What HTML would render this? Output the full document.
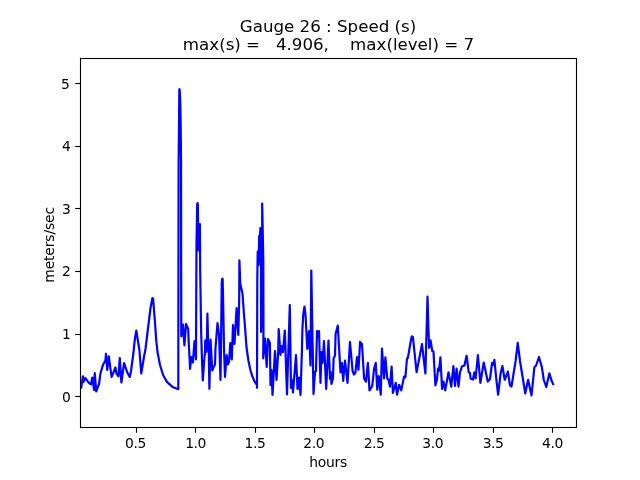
<!DOCTYPE html>
<html lang="en">
<head>
<meta charset="utf-8">
<title>Gauge 26 : Speed (s)</title>
<style>
html,body{margin:0;padding:0;background:#fff;}
body{width:640px;height:480px;overflow:hidden;}
svg{display:block;}
text{font-family:"DejaVu Sans","Liberation Sans",sans-serif;fill:#000;}
.tk{font-size:13.89px;}
.tt{font-size:16.67px;}
.xs{letter-spacing:-0.4px;}
</style>
</head>
<body>
<svg width="640" height="480" viewBox="0 0 640 480">
<rect x="0" y="0" width="640" height="480" fill="#ffffff"/>
<clipPath id="axclip"><rect x="80.00" y="57.60" width="496.00" height="369.60"/></clipPath>
<path d="M81.25 387.50 L82.90 376.30 L83.60 381.90 L85.40 378.00 L88.50 382.50 L91.00 384.40 L92.25 377.50 L94.10 390.00 L94.75 373.00 L96.25 391.30 L98.25 386.00 L99.10 383.75 L100.40 373.75 L102.90 365.00 L105.40 360.60 L106.00 353.75 L107.25 370.00 L108.75 356.25 L111.60 376.90 L113.50 372.50 L115.40 367.50 L116.60 373.75 L118.50 376.25 L119.75 358.00 L121.40 382.50 L124.10 363.00 L127.25 372.50 L129.75 376.90 L131.00 371.25 L133.50 352.50 L134.75 340.00 L136.30 330.50 L139.40 350.00 L141.25 373.50 L144.10 356.25 L145.50 349.00 L146.60 340.00 L148.10 327.50 L150.60 307.50 L152.40 298.00 L153.10 298.75 L155.00 322.50 L156.20 340.00 L157.50 352.00 L160.00 365.00 L163.10 375.00 L166.90 381.90 L172.50 386.90 L178.30 389.20 L178.60 165.00 L178.85 140.00 L179.15 110.00 L179.30 90.00 L179.50 89.20 L179.70 90.00 L180.20 100.00 L180.55 115.00 L180.85 140.00 L181.05 160.00 L181.10 250.00 L181.30 336.30 L182.00 326.50 L182.30 334.00 L183.00 324.50 L184.40 345.30 L186.00 324.00 L188.20 329.00 L188.60 340.00 L190.10 369.00 L191.30 357.00 L192.90 362.50 L194.50 341.00 L196.00 359.40 L196.50 245.00 L197.15 204.50 L197.50 203.10 L197.85 204.50 L198.40 250.50 L199.90 224.00 L200.20 270.00 L201.10 330.00 L202.00 360.00 L202.80 380.50 L204.10 362.00 L205.00 352.00 L205.30 340.40 L206.20 352.00 L206.90 340.00 L207.40 313.50 L208.10 341.00 L208.80 354.00 L209.40 388.80 L210.00 362.00 L210.30 352.00 L210.50 339.50 L212.30 370.50 L213.60 367.00 L215.00 364.50 L215.50 348.00 L217.50 323.00 L219.00 335.00 L219.50 348.00 L220.50 380.00 L221.20 330.00 L221.75 283.00 L222.15 279.30 L222.40 278.60 L222.65 279.30 L223.10 300.00 L224.00 348.00 L225.00 377.00 L226.70 355.00 L227.70 364.50 L229.00 362.00 L230.30 343.00 L231.80 359.50 L233.00 325.00 L234.50 344.00 L236.60 308.00 L238.30 335.00 L239.20 300.00 L239.40 260.30 L240.30 284.00 L242.50 293.50 L243.30 305.00 L244.60 322.00 L246.00 340.00 L246.60 348.00 L247.30 353.00 L248.50 361.00 L250.40 370.00 L252.25 376.00 L254.10 380.60 L256.00 383.75 L256.90 384.60 L257.00 387.80 L257.30 280.00 L257.70 251.50 L258.70 265.00 L259.10 236.00 L259.80 241.00 L260.40 228.00 L261.00 262.00 L261.10 332.00 L262.00 300.00 L262.20 203.50 L263.30 260.00 L263.50 330.00 L263.20 358.50 L265.00 338.50 L266.70 367.00 L268.00 339.00 L269.90 343.00 L270.50 385.00 L271.50 370.00 L272.50 395.00 L275.00 351.00 L276.50 380.00 L278.20 352.00 L278.70 329.00 L280.50 355.00 L281.50 346.00 L283.00 352.00 L284.80 330.50 L287.00 394.50 L289.80 305.00 L291.00 388.00 L292.00 380.00 L293.00 392.50 L296.00 355.00 L297.50 389.00 L299.00 377.50 L300.50 395.00 L302.00 348.00 L302.40 330.00 L303.20 315.00 L304.50 306.50 L305.60 316.00 L307.30 349.00 L309.00 331.00 L310.50 365.50 L311.30 270.50 L313.50 394.00 L315.00 372.00 L316.00 371.00 L317.00 331.00 L318.00 337.00 L319.00 331.00 L320.50 383.00 L321.50 352.00 L322.50 363.00 L324.00 341.00 L326.20 389.00 L328.50 340.50 L330.00 379.00 L330.80 372.00 L331.50 384.00 L333.00 378.00 L333.60 358.50 L335.00 355.50 L335.60 334.00 L337.80 325.50 L340.50 372.50 L342.00 363.00 L343.20 381.00 L345.00 360.50 L347.50 383.00 L350.00 342.00 L352.60 371.00 L354.00 374.50 L355.40 373.00 L357.00 357.00 L358.50 369.75 L360.10 341.90 L362.00 344.30 L364.10 378.50 L366.00 381.60 L367.90 362.90 L369.50 390.40 L372.25 386.00 L374.10 368.50 L375.75 362.90 L377.25 389.75 L378.75 376.00 L380.75 394.75 L382.00 348.50 L384.10 378.50 L385.40 357.25 L387.25 378.50 L388.50 379.75 L390.00 386.60 L391.60 366.60 L392.90 392.90 L395.75 382.90 L397.00 394.75 L399.10 384.75 L401.25 390.40 L404.10 376.60 L405.40 377.25 L407.00 358.50 L407.90 357.90 L411.50 337.00 L412.20 336.30 L412.90 337.00 L416.60 372.25 L422.00 344.10 L425.40 373.50 L426.60 330.00 L427.50 296.70 L428.50 330.00 L429.10 347.90 L430.60 340.40 L432.25 351.00 L433.50 351.60 L435.40 385.40 L436.90 379.75 L438.10 368.50 L439.00 371.00 L440.40 357.25 L442.10 389.00 L443.50 381.60 L445.25 390.40 L448.50 372.25 L451.25 386.60 L453.40 366.00 L455.00 386.00 L456.60 368.50 L458.50 386.60 L460.00 372.25 L461.90 366.60 L464.40 365.40 L466.60 355.75 L468.75 372.25 L470.00 372.90 L470.60 378.50 L472.90 379.50 L474.40 372.25 L475.60 378.50 L477.90 355.00 L480.40 382.90 L483.75 362.50 L487.75 381.60 L490.00 379.00 L491.25 369.00 L492.10 362.90 L493.10 364.75 L494.40 359.75 L496.25 378.50 L498.10 394.75 L500.60 373.50 L502.40 366.00 L504.75 379.75 L506.25 376.00 L507.90 371.60 L510.00 385.40 L511.50 386.60 L514.40 368.50 L515.60 361.00 L517.75 342.90 L520.00 361.00 L525.25 393.50 L528.10 379.75 L531.50 395.40 L534.40 367.25 L536.00 365.75 L539.00 357.00 L541.90 367.25 L543.75 379.75 L546.25 387.00 L549.40 373.25 L551.25 379.75 L553.10 384.10" fill="none" stroke="#0000ff" stroke-width="2.2" stroke-linejoin="round" stroke-linecap="square" clip-path="url(#axclip)"/>
<line x1="136.50" y1="427.20" x2="136.50" y2="432.80" stroke="#000" stroke-width="1.11"/>
<text class="tk xs" x="135.45" y="447.60" text-anchor="middle">0.5</text>
<line x1="195.50" y1="427.20" x2="195.50" y2="432.80" stroke="#000" stroke-width="1.11"/>
<text class="tk xs" x="195.60" y="447.60" text-anchor="middle">1.0</text>
<line x1="255.50" y1="427.20" x2="255.50" y2="432.80" stroke="#000" stroke-width="1.11"/>
<text class="tk xs" x="254.95" y="447.60" text-anchor="middle">1.5</text>
<line x1="314.50" y1="427.20" x2="314.50" y2="432.80" stroke="#000" stroke-width="1.11"/>
<text class="tk xs" x="313.80" y="447.60" text-anchor="middle">2.0</text>
<line x1="374.50" y1="427.20" x2="374.50" y2="432.80" stroke="#000" stroke-width="1.11"/>
<text class="tk xs" x="374.10" y="447.60" text-anchor="middle">2.5</text>
<line x1="433.50" y1="427.20" x2="433.50" y2="432.80" stroke="#000" stroke-width="1.11"/>
<text class="tk xs" x="432.70" y="447.60" text-anchor="middle">3.0</text>
<line x1="493.50" y1="427.20" x2="493.50" y2="432.80" stroke="#000" stroke-width="1.11"/>
<text class="tk xs" x="493.10" y="447.60" text-anchor="middle">3.5</text>
<line x1="552.50" y1="427.20" x2="552.50" y2="432.80" stroke="#000" stroke-width="1.11"/>
<text class="tk xs" x="552.45" y="447.60" text-anchor="middle">4.0</text>
<line x1="75.14" y1="396.50" x2="80.00" y2="396.50" stroke="#000" stroke-width="1.11"/>
<text class="tk" x="70.95" y="401.80" text-anchor="end">0</text>
<line x1="75.14" y1="334.50" x2="80.00" y2="334.50" stroke="#000" stroke-width="1.11"/>
<text class="tk" x="70.95" y="338.80" text-anchor="end">1</text>
<line x1="75.14" y1="271.50" x2="80.00" y2="271.50" stroke="#000" stroke-width="1.11"/>
<text class="tk" x="70.95" y="275.80" text-anchor="end">2</text>
<line x1="75.14" y1="208.50" x2="80.00" y2="208.50" stroke="#000" stroke-width="1.11"/>
<text class="tk" x="70.95" y="213.80" text-anchor="end">3</text>
<line x1="75.14" y1="146.50" x2="80.00" y2="146.50" stroke="#000" stroke-width="1.11"/>
<text class="tk" x="70.95" y="150.80" text-anchor="end">4</text>
<line x1="75.14" y1="83.50" x2="80.00" y2="83.50" stroke="#000" stroke-width="1.11"/>
<text class="tk" x="69.95" y="88.80" text-anchor="end">5</text>
<rect x="80.5" y="58.5" width="496" height="369" fill="none" stroke="#000" stroke-width="1.11"/>
<text class="tk" x="328.1" y="466.8" text-anchor="middle" style="letter-spacing:-0.25px">hours</text>
<text class="tk" transform="translate(53.6 244.9) rotate(-90)" text-anchor="middle" style="letter-spacing:-0.13px">meters/sec</text>
<text class="tt" x="328" y="31.9" text-anchor="middle">Gauge 26 : Speed (s)</text>
<text class="tt" x="328.5" y="49.9" text-anchor="middle" xml:space="preserve" style="white-space:pre">max(s) =   4.906,    max(level) = 7</text>
</svg>
</body>
</html>
